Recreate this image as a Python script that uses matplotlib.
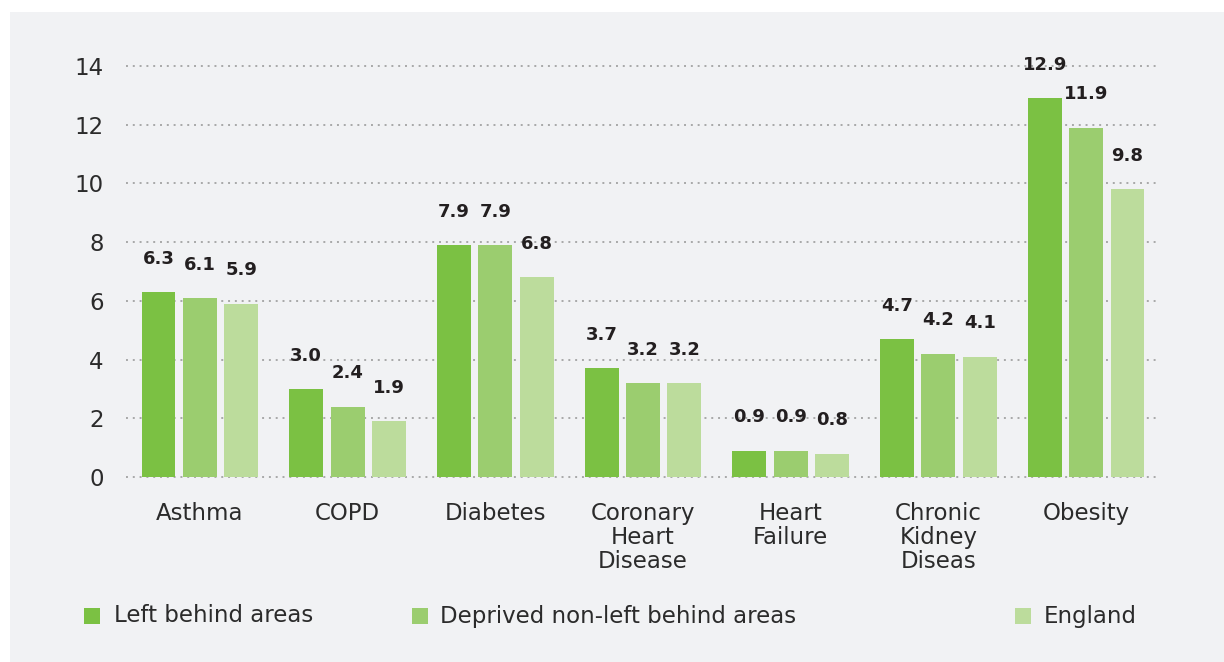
#!/usr/bin/env python3
"""Prevalence of conditions: left behind areas vs deprived areas vs England."""

import matplotlib

matplotlib.use("Agg")
import matplotlib.pyplot as plt
import numpy as np
from matplotlib.patches import Rectangle

categories = [
    "Asthma",
    "COPD",
    "Diabetes",
    "Coronary\nHeart\nDisease",
    "Heart\nFailure",
    "Chronic\nKidney\nDiseas",
    "Obesity",
]
left_behind = [6.3, 3.0, 7.9, 3.7, 0.9, 4.7, 12.9]
deprived = [6.1, 2.4, 7.9, 3.2, 0.9, 4.2, 11.9]
england = [5.9, 1.9, 6.8, 3.2, 0.8, 4.1, 9.8]
series_names = ["Left behind areas", "Deprived non-left behind areas", "England"]
y_ticks = [0, 2, 4, 6, 8, 10, 12, 14]

COLORS = ["#7bc143", "#9bcd6f", "#bcdc9c"]
PANEL = "#f1f2f4"
TEXT = "#2b2b2b"

plt.rcParams["font.family"] = ["DejaVu Sans"]

fig = plt.figure(figsize=(12.24, 6.62), dpi=100)
fig.patch.set_facecolor("white")
fig.patches.append(
    Rectangle((10 / 1224, 0), 1 - 10 / 1224, 1 - 12 / 662,
              transform=fig.transFigure, facecolor=PANEL, edgecolor="none", zorder=-10)
)

ax = fig.add_axes([126 / 1224, 1 - 477 / 662, (1160 - 126) / 1224, (477 - 66) / 662])
ax.set_facecolor("none")

x = np.arange(len(categories))
width = 0.23
step = 0.28
for i, (values, name) in enumerate(zip([left_behind, deprived, england], series_names)):
    pos = x + (i - 1) * step
    ax.bar(pos, values, width=width, color=COLORS[i], label=name, zorder=3)
    for px, v in zip(pos, values):
        ax.annotate(f"{v:.1f}", (px, v), xytext=(0, 24), textcoords="offset points",
                    ha="center", va="center", fontsize=13, fontweight="bold",
                    color="#231f20", annotation_clip=False)

ax.set_xlim(-0.5, len(categories) - 0.5)
ax.set_ylim(0, 14)
ax.set_yticks(y_ticks)
ax.set_xticks(x)
ax.set_xticklabels(categories, fontsize=16.5, color=TEXT, linespacing=1.05)
ax.tick_params(axis="y", labelsize=16.5, labelcolor=TEXT, length=0, pad=16)
ax.tick_params(axis="x", length=0, pad=18)
ax.yaxis.grid(True, linestyle=(0, (1, 2.5)), color="#a8a8a8", linewidth=1.4, clip_on=False)
ax.set_axisbelow(True)
for spine in ax.spines.values():
    spine.set_visible(False)

# legend entries placed along the bottom
legend_x = [84, 412, 1015]
text_x = [114, 440, 1044]
for sx, tx, name, color in zip(legend_x, text_x, series_names, COLORS):
    fig.patches.append(
        Rectangle((sx / 1224, 1 - 624 / 662), 16 / 1224, 16 / 662,
                  transform=fig.transFigure, facecolor=color, edgecolor="none")
    )
    fig.text(tx / 1224, 1 - 616 / 662, name, fontsize=16.5, color=TEXT, va="center", ha="left")

fig.savefig("out.png", dpi=100, facecolor=fig.get_facecolor())
